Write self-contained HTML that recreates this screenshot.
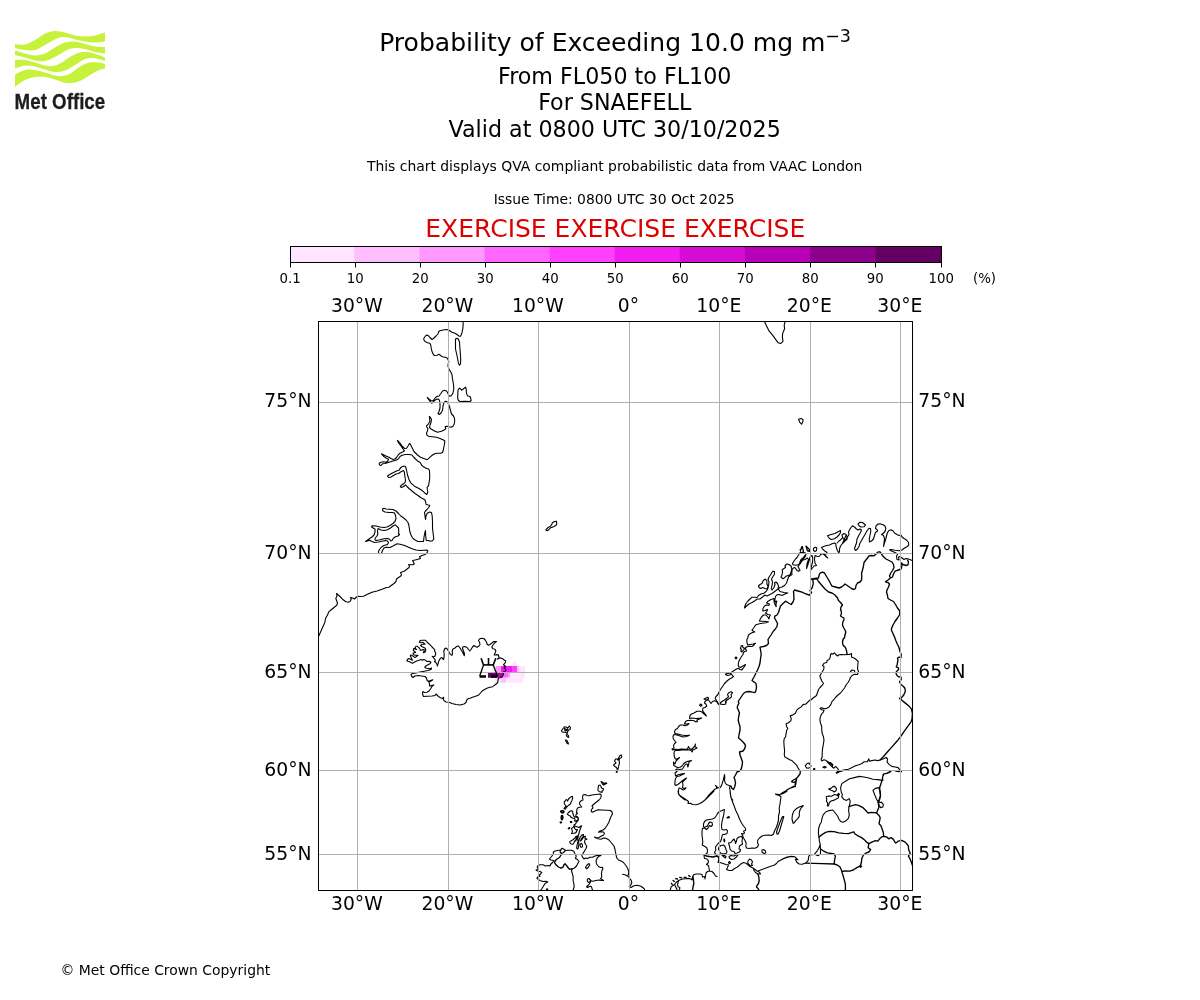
<!DOCTYPE html>
<html lang="en"><head><meta charset="utf-8"><title>Probability of Exceeding 10.0 mg m-3</title>
<style>
html,body{margin:0;padding:0;background:#fff;}
body{width:1200px;height:1000px;overflow:hidden;position:relative;font-family:"DejaVu Sans","Liberation Sans",sans-serif;}
svg{position:absolute;left:0;top:0;}
text{font-family:"DejaVu Sans","Liberation Sans",sans-serif;fill:#000;}
.t1{font-size:25.06px;}
.t2{font-size:22.2px;}
.t3{font-size:13.9px;}
.ex{font-size:25px;fill:#dc0000;}
.cb{font-size:13.3px;}
.ml{font-size:18.75px;}
.coast{fill:none;stroke:#000;stroke-width:1.1;stroke-linejoin:round;stroke-linecap:round;}
.border{fill:none;stroke:#000;stroke-width:1.35;stroke-linejoin:round;stroke-linecap:round;}
.grid{stroke:#b0b0b0;stroke-width:1;fill:none;}
</style></head><body>
<svg width="1200" height="1000" viewBox="0 0 1200 1000">

<text class="t1" x="379.2" y="50.8">Probability of Exceeding 10.0 mg m<tspan font-size="17.5px" dx="-0.3" dy="-9.2">−3</tspan></text>
<text class="t2" x="614.7" y="83.6" text-anchor="middle">From FL050 to FL100</text>
<text class="t2" x="614.7" y="109.8" text-anchor="middle">For SNAEFELL</text>
<text class="t2" x="614.7" y="136.8" text-anchor="middle">Valid at 0800 UTC 30/10/2025</text>
<text class="t3" x="614.7" y="171" text-anchor="middle">This chart displays QVA compliant probabilistic data from VAAC London</text>
<text class="t3" x="614.2" y="204" text-anchor="middle">Issue Time: 0800 UTC 30 Oct 2025</text>
<text class="ex" x="615.3" y="237.4" text-anchor="middle">EXERCISE EXERCISE EXERCISE</text>
<text class="t3" x="60.5" y="975">© Met Office Crown Copyright</text>
<rect x="290.50" y="246.5" width="64.30" height="16" fill="#ffe5ff"/>
<rect x="354.30" y="246.5" width="65.60" height="16" fill="#ffbfff"/>
<rect x="419.40" y="246.5" width="65.60" height="16" fill="#ff99ff"/>
<rect x="484.50" y="246.5" width="65.60" height="16" fill="#ff66ff"/>
<rect x="549.60" y="246.5" width="65.60" height="16" fill="#ff40ff"/>
<rect x="614.70" y="246.5" width="65.60" height="16" fill="#f01cf0"/>
<rect x="679.80" y="246.5" width="65.60" height="16" fill="#d40cd4"/>
<rect x="744.90" y="246.5" width="65.60" height="16" fill="#b800b8"/>
<rect x="810.00" y="246.5" width="65.60" height="16" fill="#8c008c"/>
<rect x="875.10" y="246.5" width="66.90" height="16" fill="#640064"/>
<rect x="290.5" y="246.5" width="651.0" height="16" fill="none" stroke="#000" stroke-width="1"/>
<line x1="290.50" y1="262.5" x2="290.50" y2="267.5" stroke="#000" stroke-width="1"/>
<text class="cb" x="290.20" y="282.6" text-anchor="middle">0.1</text>
<line x1="355.50" y1="262.5" x2="355.50" y2="267.5" stroke="#000" stroke-width="1"/>
<text class="cb" x="355.20" y="282.6" text-anchor="middle">10</text>
<line x1="420.50" y1="262.5" x2="420.50" y2="267.5" stroke="#000" stroke-width="1"/>
<text class="cb" x="420.20" y="282.6" text-anchor="middle">20</text>
<line x1="485.50" y1="262.5" x2="485.50" y2="267.5" stroke="#000" stroke-width="1"/>
<text class="cb" x="485.20" y="282.6" text-anchor="middle">30</text>
<line x1="550.50" y1="262.5" x2="550.50" y2="267.5" stroke="#000" stroke-width="1"/>
<text class="cb" x="550.20" y="282.6" text-anchor="middle">40</text>
<line x1="615.50" y1="262.5" x2="615.50" y2="267.5" stroke="#000" stroke-width="1"/>
<text class="cb" x="615.20" y="282.6" text-anchor="middle">50</text>
<line x1="680.50" y1="262.5" x2="680.50" y2="267.5" stroke="#000" stroke-width="1"/>
<text class="cb" x="680.20" y="282.6" text-anchor="middle">60</text>
<line x1="745.50" y1="262.5" x2="745.50" y2="267.5" stroke="#000" stroke-width="1"/>
<text class="cb" x="745.20" y="282.6" text-anchor="middle">70</text>
<line x1="810.50" y1="262.5" x2="810.50" y2="267.5" stroke="#000" stroke-width="1"/>
<text class="cb" x="810.20" y="282.6" text-anchor="middle">80</text>
<line x1="875.50" y1="262.5" x2="875.50" y2="267.5" stroke="#000" stroke-width="1"/>
<text class="cb" x="875.20" y="282.6" text-anchor="middle">90</text>
<line x1="941.50" y1="262.5" x2="941.50" y2="267.5" stroke="#000" stroke-width="1"/>
<text class="cb" x="941.20" y="282.6" text-anchor="middle">100</text>
<text class="cb" x="984.5" y="282.6" text-anchor="middle">(%)</text>
<clipPath id="mc"><rect x="318.5" y="321.5" width="594.0" height="569.0"/></clipPath>
<g clip-path="url(#mc)">
<rect x="513" y="661.25" width="2.75" height="4.75" fill="#ffe5ff"/>
<rect x="492" y="666" width="2.75" height="6.60" fill="#fff0ff"/>
<rect x="494.75" y="666" width="1.25" height="6.60" fill="#ffe5ff"/>
<rect x="496" y="666" width="5.00" height="6.60" fill="#ff99ff"/>
<rect x="501" y="666" width="11.75" height="6.60" fill="#f01cf0"/>
<rect x="512.75" y="666" width="4.25" height="6.60" fill="#ff40ff"/>
<rect x="517" y="666" width="2.25" height="6.60" fill="#ffbfff"/>
<rect x="519.25" y="666" width="5.75" height="6.60" fill="#ffe5ff"/>
<rect x="488" y="673" width="9.50" height="4.75" fill="#640064"/>
<rect x="497.5" y="672.6" width="6.00" height="5.15" fill="#b800b8"/>
<rect x="503.5" y="672.6" width="4.50" height="5.15" fill="#ff66ff"/>
<rect x="508" y="672.6" width="2.00" height="5.15" fill="#ff99ff"/>
<rect x="510" y="672.6" width="15.00" height="5.15" fill="#ffe5ff"/>
<rect x="495" y="677.75" width="6.00" height="5.00" fill="#ffe5ff"/>
<rect x="501" y="677.75" width="5.00" height="5.00" fill="#ffbfff"/>
<rect x="506" y="677.75" width="17.00" height="5.00" fill="#ffe5ff"/>
<path class="coast" d="M463.0,321.0L463.2,324.0L462.8,329.0L461.8,333.5L460.5,336.2L459.0,336.2L457.0,334.5L455.0,333.2L451.5,332.0L449.0,330.2L446.5,329.5L443.0,330.0L440.0,330.8L438.5,331.8L438.3,333.5L436.0,336.0L433.5,338.5L432.0,339.5L430.0,337.5L428.5,335.8L427.0,335.0L425.5,336.0L424.0,338.0L423.7,339.5L425.0,341.5L427.0,342.5L430.0,343.5L430.7,345.0L431.2,348.0L432.0,351.5L433.5,354.8L434.5,355.5L437.0,355.2L439.0,354.2L440.5,355.5L442.5,356.8L445.0,357.2L446.8,357.8L448.0,359.5L448.8,361.5L448.2,364.0L448.0,366.0L449.0,369.0L450.5,371.5L452.0,374.5L452.5,379.0L453.5,384.0L453.8,389.0L453.0,393.0L451.5,395.5L450.0,396.3L448.8,395.5L447.8,393.0L446.5,391.0L444.5,390.2L442.5,391.0L440.5,394.0L439.0,396.0L437.0,396.5L435.5,397.5L434.0,399.5L432.8,400.8L431.2,400.8L429.5,399.5L427.2,397.5L429.0,400.0L430.5,402.0L432.0,403.2L433.0,402.2L434.5,400.5L436.5,399.2L438.5,399.0L439.5,400.5L440.0,404.0L440.0,408.0L439.0,411.5L438.0,413.5L439.2,414.5L441.0,413.0L442.5,410.5L443.0,406.0L444.0,402.5L445.5,401.2L446.8,401.5L448.0,403.0L449.5,406.5L450.5,410.5L451.5,414.0 M455.5,339.0L457.0,338.2L458.5,339.5L459.5,342.0L459.8,347.0L460.3,353.0L460.7,359.0L460.5,364.0L459.5,365.2L458.5,363.5L457.5,358.0L456.2,352.0L455.5,349.0L455.5,344.0Z M458.0,390.0L459.5,388.2L460.5,388.8L461.5,390.2L463.5,388.8L465.5,387.2L466.2,389.0L466.6,394.0L467.8,396.0L470.0,396.5L470.8,398.5L471.2,400.5L470.0,401.5L465.0,401.3L460.0,401.5L458.5,400.5L457.7,398.5L457.8,394.0Z M451.5,414.0L453.5,416.0L454.5,418.5L454.7,421.5L454.0,424.5L453.0,426.2L451.0,427.2L449.0,426.8L447.0,426.2L445.2,426.5L445.8,428.5L444.5,429.8L441.5,431.2L437.5,432.2L434.5,431.0L431.5,429.3L429.5,427.5L430.0,425.0L431.0,422.5L431.5,419.5L430.5,417.5L429.3,416.5L429.7,419.0L429.8,421.5L428.5,423.8L426.5,425.8L426.8,427.0L427.8,428.5L427.5,431.0L426.5,432.8L426.8,434.8L428.5,436.3L432.0,436.7L436.5,437.2L440.0,438.5L443.5,440.0L444.8,441.0L444.5,444.0L443.8,447.0L443.2,450.5L442.5,452.5L440.5,453.2L437.0,453.3L434.5,453.8L431.5,455.8L429.0,458.2L427.2,459.7L424.5,458.8L420.5,457.2L417.5,455.0L414.0,451.5L412.0,447.5L410.5,444.5L409.5,443.5L408.0,446.0L406.5,448.2L404.5,448.5L402.5,446.5L400.0,443.0L397.5,440.3L398.5,443.0L401.0,446.0L403.0,449.0L404.5,450.8L403.0,451.8L400.0,453.2L398.0,455.2L396.5,457.5L395.0,459.0L393.0,459.5L391.0,458.5L389.0,457.2L386.0,456.0L381.5,453.8L383.5,456.2L386.5,458.2L388.5,459.2L387.8,461.0L386.0,462.2L383.5,461.8L381.0,462.2L379.2,463.2L379.5,465.0L381.0,465.5L382.5,463.8L385.0,463.5L389.0,462.2L393.0,461.0L396.5,460.0L398.5,458.8L400.0,456.5L402.0,455.2L405.5,454.5L409.0,454.5L412.0,455.0L413.5,457.0L415.5,459.0L418.0,461.3L420.2,462.5L421.5,465.0L423.5,466.8L426.0,468.2L428.5,469.0L429.5,470.5L429.7,475.0L429.6,479.0L429.0,483.0L428.5,485.8L427.0,487.5L427.5,490.0L427.7,492.5L426.8,494.5L425.0,493.2L422.5,490.8L419.0,488.5L414.5,486.2L411.0,483.2L409.0,479.5L407.5,475.0L406.5,470.0L405.5,466.5L404.0,466.0L401.5,467.0L400.0,468.5L399.5,470.0L397.0,470.8L394.0,472.2L390.5,474.0L387.5,476.0L388.5,477.5L390.5,477.3L393.5,475.5L396.0,474.0L398.5,473.5L401.0,471.8L403.5,470.5L404.3,472.0L404.8,476.0L405.5,480.0L405.2,482.2L403.5,483.8L401.2,485.2L400.3,486.5L401.5,487.5L403.5,486.5L405.5,484.8L407.0,486.5L409.0,488.5L412.0,491.0L415.0,493.5L418.0,495.5L421.0,497.8L423.5,499.0L425.0,500.0L425.8,502.5L426.0,504.2L428.0,505.0L429.8,505.2L429.0,507.0L427.0,509.5L425.5,511.0 M425.5,511.0L424.5,512.5L425.0,516.0L425.5,519.5L426.0,516.0L427.0,513.5L429.5,512.0L431.5,512.5L432.2,516.0L432.5,522.0L432.5,528.0L433.2,534.0L433.8,539.0L432.5,540.8L430.5,541.2L428.5,540.5L426.2,540.5L425.7,536.0L425.5,530.5L424.8,533.0L424.0,537.0L423.5,541.5L421.0,541.5L418.0,541.5L415.0,540.0L412.5,537.8L411.0,535.0L409.7,531.0L409.0,526.0L408.0,522.5L406.0,520.0L403.5,517.8L400.8,516.0L398.5,513.5L396.0,511.0L393.0,509.5L389.5,509.2L386.0,509.0L384.0,508.2L382.5,509.0L382.8,510.8L385.0,512.0L389.0,512.5L392.5,512.5L394.5,513.0L395.5,515.5L396.0,518.5L395.0,521.5L393.0,523.5L390.0,525.5L387.0,527.0L384.0,527.5L380.0,527.0L376.0,526.0L372.0,525.8L371.5,526.8L373.5,528.2L375.0,529.0L375.0,532.0L374.0,535.0L372.0,537.0L369.0,539.0L365.5,541.5L367.5,541.0L369.5,540.2L372.0,541.5L374.5,542.5L378.5,542.0L382.0,541.2L385.5,540.5L387.5,541.0L388.5,542.5L387.5,544.5L384.0,545.5L381.5,547.0L379.5,549.5L378.5,551.5L378.5,553.2L380.0,553.6L381.5,553.2L382.5,550.5L384.0,548.0L386.0,547.2L390.0,547.5L393.0,546.0L397.0,543.8L400.0,544.2L404.0,545.2L408.0,547.0L412.0,548.8L416.0,550.0L420.0,550.5L424.0,550.2L426.5,550.0L427.8,550.8L427.0,553.0L425.0,554.5L422.0,555.5L419.5,556.8L420.5,558.5L418.0,559.2L415.0,560.0L412.5,560.5L413.5,562.0L414.2,564.0L412.5,564.8L410.0,564.8L408.5,564.5L409.5,566.0L409.0,567.5L406.5,569.5L404.0,571.2L400.5,572.5L401.5,574.5L400.8,576.0L398.5,577.5L396.5,579.0L396.0,581.5L394.0,583.5L391.5,585.2L389.0,587.2L386.0,587.5 M378.0,528.5L381.0,530.0L384.0,530.5L387.5,529.8L390.5,528.0L393.0,526.0L395.5,524.8L397.0,526.5L398.5,528.0L398.8,531.0L398.5,533.5L399.5,534.5L398.0,536.0L395.5,536.8L393.5,538.0L392.0,540.5L390.8,541.0L389.5,539.2L387.5,538.5L384.0,538.8L380.0,539.8L376.5,540.5L375.0,540.0L375.2,538.0L377.0,536.0L377.8,534.0L377.5,531.0Z M386.0,587.8L382.0,589.2L377.0,591.0L372.0,592.2L367.0,594.5L363.5,596.2L360.5,596.5L357.5,596.2L356.0,597.5L354.5,599.0L352.5,598.0L350.5,597.5L351.2,599.5L350.0,601.5L348.0,602.3L345.5,601.5L342.5,599.2L339.5,596.0L336.5,593.5L337.0,596.0L335.8,598.5L336.8,601.0L337.5,603.5L336.5,605.5L334.0,607.5L331.5,609.5L328.8,611.8L327.5,615.0L325.5,618.5L325.0,622.0L323.0,626.5L321.0,631.0L319.0,635.5L318.0,637.5 M419.3,642.2L420.2,640.5L422.0,640.2L425.3,640.2L426.7,641.7L428.0,643.0L430.0,644.7L432.0,647.0L433.7,648.7L434.8,649.7L434.5,651.0L435.7,652.7L435.5,654.7L434.8,656.2L433.3,656.7L432.2,656.4L433.7,657.8L434.8,659.3L435.3,660.7L434.5,661.5L436.0,662.7L437.0,664.3L437.3,666.0L438.0,664.0L438.7,661.3L439.7,659.3L440.7,658.0L442.0,657.5L442.5,658.5L443.5,659.5L444.0,657.5L444.2,654.5L443.8,651.5L444.5,649.0L445.8,648.0L447.2,649.0L448.5,651.0L449.5,653.0L450.5,654.5L452.0,655.3L452.5,653.5L452.2,651.0L453.0,649.0L455.0,648.0L457.0,646.2L458.5,646.0L460.0,648.0L461.5,650.5L463.0,653.0L464.3,655.8L464.5,654.0L463.5,651.0L462.5,648.5L463.0,646.8L465.0,646.5L467.0,647.5L468.5,649.5L469.8,651.0L471.0,649.5L472.5,647.0L474.0,645.5L475.5,646.5L477.0,647.2L479.0,646.0L480.0,644.5L479.5,642.2L478.5,640.5L479.5,639.0L481.5,638.2L483.8,638.5L485.2,640.0L486.5,642.0L487.0,644.0L488.5,645.3L490.0,644.5L492.0,642.8L494.0,641.5L496.5,641.5L494.5,643.0L493.0,645.0L491.8,647.2L493.0,648.8L495.0,649.2L495.8,651.0L495.5,652.2L494.7,653.7L494.2,655.0L495.5,655.0L497.2,654.6L498.5,655.0L498.7,656.5L499.0,657.7L498.0,659.0L497.2,659.2L498.7,658.2L501.0,658.0L503.0,659.0L504.5,660.2L505.7,660.7L505.5,662.2L504.5,663.7L503.5,664.7L504.5,665.5L505.5,666.5L504.5,667.5L504.2,668.5L505.7,669.2L505.7,670.7L505.0,671.5L503.5,672.0L503.5,673.2L503.0,675.5L501.7,677.0L500.0,677.7L498.7,678.0L498.0,679.5L498.0,681.5L497.2,683.2L495.5,684.5L494.0,685.6L492.7,686.7L490.0,687.2L487.5,688.0L485.0,689.2L482.5,690.7L480.5,693.0L478.5,695.2L475.5,696.2L472.5,697.2L470.0,698.2L468.0,698.8L466.8,700.0L466.0,702.5L464.0,704.0L460.0,705.0L456.0,704.5L452.0,703.5L449.0,702.2L446.0,702.0L444.0,700.5L443.2,699.0L443.8,697.2L442.5,698.5L440.5,697.8L438.5,696.5L437.0,695.0L436.0,694.0L435.0,695.5L432.0,696.0L427.0,696.3L423.5,696.5L422.5,694.0L422.8,691.5L424.5,692.5L427.0,692.2L429.0,691.0L430.8,688.5L432.0,686.2L433.8,685.0L431.5,685.5L429.5,686.0L429.5,684.0L429.0,682.0L431.0,681.0L432.8,679.8L430.5,680.5L428.5,681.5L427.0,680.0L426.5,678.0L425.0,676.5L421.5,676.0L418.0,675.5L415.0,676.0L413.0,677.5L411.5,676.0L411.0,674.2L412.5,673.5L416.0,673.0L420.0,672.0L424.0,671.2L428.0,670.5L431.0,669.5L431.5,668.0L429.5,668.8L426.5,668.2L424.8,667.5L425.0,667.0L426.3,665.7L428.0,664.7L430.0,663.7L431.0,662.5L429.7,661.3L427.0,661.5L425.7,660.3L423.7,659.5L422.3,660.2L421.0,659.5L419.7,660.0L417.3,660.8L414.7,662.0L412.5,663.3L411.3,662.7L409.7,661.7L407.8,661.3L406.8,660.7L407.5,659.5L408.7,658.5L410.0,659.0L411.3,659.8L412.7,660.3L411.5,658.8L411.3,657.3L410.3,656.2L410.5,655.0L412.0,655.3L413.7,656.7L415.0,657.5L416.3,656.7L418.0,655.3L415.3,655.3L413.7,654.7L413.0,653.3L414.3,652.7L415.7,652.5L414.5,651.5L413.3,650.3L413.5,648.7L414.5,648.3L415.3,649.3L416.7,649.5L415.5,648.7L415.3,647.3L416.0,646.2L417.3,646.3L419.0,647.7L420.0,649.0L420.2,650.3L421.7,650.3L422.7,649.5L424.3,649.7L424.0,651.3L423.3,652.7L424.3,652.5L425.3,651.7L425.7,650.0L425.3,648.3L423.3,647.3L421.7,646.5L420.7,645.5L421.7,644.5L423.3,644.3L425.0,644.3L424.0,643.2L422.7,642.3L420.7,642.7Z M546.3,530.5L546.0,529.5L547.7,527.8L550.4,526.1L551.8,524.4L552.4,522.7L554.5,521.5L556.5,521.3L556.7,523.7L555.9,525.4L553.8,526.6L551.8,527.4L550.4,527.8L548.4,530.1L547.0,530.8Z M764.2,321.0L766.8,326.4L769.2,331.2L772.8,335.4L775.8,339.6L778.2,342.8L780.6,343.6L783.0,341.4L782.4,337.2L782.6,333.6L784.6,328.8L784.2,325.2L785.2,321.0 M798.6,419.2L801.0,418.5L803.0,419.4L802.8,421.8L801.6,424.2L799.8,422.4Z M561.5,730.8L563.0,728.5L564.5,726.8L566.5,727.2L568.0,728.0L569.2,726.0L570.5,727.5L570.0,729.5L568.5,730.0L567.8,731.5L567.0,733.5L565.5,732.0L563.5,732.2L562.0,731.8Z M564.5,728.5L566.0,729.5L567.5,729.0L566.8,730.8L565.0,730.5Z M566.2,735.0L567.5,734.5L568.8,736.0L568.5,737.5L567.0,736.5Z M565.5,740.0L566.8,740.2L568.0,742.5L568.5,744.0L567.2,743.5L566.0,741.5Z M621.0,754.8L621.8,756.0L621.2,757.8L619.5,758.5L619.0,760.5L619.5,762.5L618.8,765.5L618.2,768.5L617.5,770.0L616.5,767.5L614.5,766.2L613.5,765.0L615.0,763.8L616.0,762.8L614.5,761.2L615.5,759.0L617.0,759.0L618.0,760.0L618.5,758.0L619.5,756.2Z M616.3,771.5L617.2,771.3L617.0,772.5L616.3,772.2Z M601.0,781.5L602.5,782.2L604.0,783.5L606.0,782.8L606.8,783.2L605.0,784.2L603.5,785.0L602.5,784.0L601.5,782.5Z M598.5,785.5L600.0,785.0L601.0,786.5L601.5,788.0L603.5,788.8L603.0,790.5L601.8,791.5L602.0,792.5L600.5,792.0L599.0,791.5L597.8,790.0L598.2,788.0Z M592.5,890.0L592.0,888.5L591.5,886.8L590.0,886.2L587.5,887.5L586.5,886.8L588.5,885.0L590.0,883.0L591.0,880.8L593.0,881.2L596.0,880.5L599.0,880.0L601.5,880.5L603.5,880.5L602.0,879.5L600.5,878.5L601.8,877.0L601.5,874.0L601.8,871.0L602.8,869.0L602.5,867.2L600.5,867.5L598.5,866.5L596.5,864.0L596.0,861.0L597.2,858.0L599.0,856.2L601.0,855.5L598.0,855.2L595.0,856.0L592.5,857.2L590.0,857.2L587.5,858.5L585.5,858.0L584.0,859.0L582.5,857.2L581.8,855.0L583.0,853.5L584.5,851.0L586.0,848.5L586.8,846.0L585.5,844.5L584.5,842.0L585.0,839.8L587.0,839.2L584.8,838.0L585.5,836.2L584.0,836.5L582.0,839.5L580.5,841.0L581.5,838.5L583.0,836.5L583.5,834.5L582.0,834.8L580.5,836.5L579.2,839.5L578.5,842.5L577.8,840.0L578.0,837.0L578.8,834.0L579.5,831.0L580.5,828.5L581.5,825.8L580.5,826.2L579.0,827.5L577.0,826.8L575.2,826.2L574.0,825.0L575.5,824.0L576.5,822.0L578.0,820.5L578.5,818.5L577.5,816.8L575.8,816.2L576.0,814.5L577.5,813.5L576.5,812.5L576.8,810.0L577.5,808.0L579.5,807.2L581.8,807.0L580.5,805.5L579.5,804.0L579.8,802.0L581.0,800.8L583.0,800.0L582.5,797.5L583.0,795.0L585.0,794.5L587.0,795.5L589.0,795.8L592.0,795.0L596.0,794.5L600.0,794.0L601.2,795.0L600.8,798.0L599.0,800.0L596.5,802.0L594.0,804.0L592.0,806.0L593.0,807.8L591.5,809.5L591.2,811.5L592.5,812.2L595.0,811.0L598.0,809.8L602.0,810.0L607.0,810.2L610.5,810.5L612.0,812.0L612.5,814.0L611.0,816.5L610.0,819.0L609.0,822.0L607.0,825.5L605.0,828.5L603.0,830.0L600.0,831.0L598.5,832.2L601.0,831.8L603.5,832.0L604.5,833.5L603.5,835.0L601.5,836.0L599.0,837.5L596.0,837.8L594.5,837.0L596.0,838.0L599.0,839.0L601.0,839.2L603.5,838.0L606.0,838.2L609.0,840.0L611.5,843.0L614.0,846.0L615.0,849.5L615.8,854.0L616.8,858.0L618.5,860.0L621.0,861.0L623.5,862.5L625.5,865.0L627.5,868.0L628.8,871.5L628.5,874.0L627.8,876.2L625.0,874.8L622.5,874.3L625.0,874.8L627.8,876.2L629.0,877.5L631.0,880.0L631.8,882.5L630.8,885.0L629.2,886.5L631.0,887.5L634.0,885.8L637.0,885.2L641.0,886.2L644.0,888.5L645.0,890.5 M587.5,879.0L589.0,878.5L590.5,880.0L590.0,881.8L588.5,882.5L587.3,881.2Z M564.3,801.4L565.5,800.8L566.1,799.6L567.0,799.9L567.6,801.1L568.5,799.0L569.7,797.8L570.9,796.9L572.4,796.3L572.7,797.8L572.1,800.2L570.9,802.3L570.6,803.8L569.4,804.7L567.9,805.9L566.4,807.4L565.2,809.2L564.0,808.6L564.9,807.4L566.1,806.2L565.2,805.0L564.3,803.5Z M560.4,811.3L561.9,810.4L563.7,810.7L564.3,811.9L563.1,813.1L561.3,812.8Z M561.0,811.6L562.5,811.9L563.7,811.6 M561.3,815.5L562.5,815.2L563.1,816.7L562.8,818.8L562.2,820.0L561.3,819.4L561.0,817.6Z M561.9,815.8L562.1,817.6L561.9,819.4 M560.1,822.1L561.3,821.8L561.6,822.7L560.4,823.0Z M560.3,822.5L561.5,822.3 M567.3,814.0L568.5,812.5L570.3,811.0L571.8,810.7L572.7,811.9L573.0,814.0L573.6,815.8L574.8,817.0L576.6,817.3L578.1,817.9L578.4,819.4L577.2,820.3L575.7,821.2L574.5,820.9L575.1,819.4L574.2,818.2L572.7,818.2L571.2,817.3L570.0,815.8L568.5,815.2Z M570.3,821.5L571.5,821.2L571.8,822.4L570.6,822.7Z M570.5,822.0L571.7,821.8 M568.2,828.4L569.4,827.5L569.9,827.9L568.7,829.0Z M568.4,828.6L569.6,827.7 M571.5,828.4L573.0,827.5L573.6,826.3L574.5,827.2L574.8,828.7L576.0,829.9L577.5,829.6L576.6,831.4L575.7,832.9L573.6,833.3L571.5,833.5L572.4,832.0L572.1,830.2Z M569.7,841.6L571.2,840.7L573.0,839.8L574.8,838.0L576.0,836.8L576.9,837.4L576.0,839.2L574.8,841.0L573.9,842.8L572.7,844.3L571.2,844.0L570.0,842.8Z M575.7,836.5L577.2,835.9L578.1,836.5L577.2,838.0L576.3,839.8L575.7,841.0 M580.2,844.0L581.4,843.4L582.3,844.3L582.6,846.1L582.0,847.3L580.8,847.3L580.1,845.8Z M578.1,841.3L577.5,843.4L576.9,845.8L576.7,847.9L577.3,849.1L578.1,848.5L578.5,846.4L578.9,844.0L578.7,842.8Z M585.5,867.5L587.0,865.0L589.0,863.5L589.8,864.8L588.5,867.0L586.8,868.8Z M540.5,890.5L542.0,888.5L543.5,886.0L545.0,883.5L547.8,882.0L546.0,881.2L543.0,881.5L540.0,880.5L538.5,879.5L537.0,878.5L537.5,877.0L540.0,876.2L539.0,875.0L540.5,874.0L541.8,872.5L540.0,871.5L537.5,871.0L536.0,870.0L538.5,869.0L537.2,867.5L537.8,865.8L540.0,864.8L543.0,864.8L545.5,866.0L548.0,865.5L550.0,866.0L550.5,864.5L552.5,862.5L554.0,860.5L551.0,860.0L549.5,859.0L551.5,856.5L553.5,854.0L553.2,852.2L555.0,851.0L558.5,850.2L560.5,850.0L562.2,848.2L564.0,849.2L565.5,850.5L568.5,850.3L571.5,850.2L573.8,851.2L574.8,853.5L576.2,856.0L575.5,858.5L577.5,859.5L579.0,861.5L577.8,863.5L576.5,866.0L574.5,868.0L572.0,869.0L571.5,871.0L572.5,874.0L573.2,877.0L573.0,880.0L573.8,883.5L574.2,886.5L573.0,890.5 M561.0,849.8L560.0,852.0L561.5,853.5L563.5,852.5L565.0,851.0 M546.5,889.0L547.5,888.8L547.7,889.8L546.7,889.9Z M821.5,547.5L823.5,546.5L826.5,545.5L829.5,545.0L832.0,543.8L834.5,543.0L835.8,544.0L836.2,547.0L837.2,550.0L838.5,552.5L839.5,552.0L839.5,549.0L840.5,546.0L842.5,543.5L845.0,541.0L846.8,539.5L847.5,537.0L849.0,534.5L848.5,532.0L849.5,530.0L851.0,527.5L852.5,525.8L854.5,527.0L856.5,529.0L858.0,530.0L860.0,529.0L861.5,530.0L860.5,532.5L858.5,536.0L857.0,539.0L856.5,543.0L855.2,546.5L854.5,549.0L855.5,550.5L857.5,549.0L859.0,546.5L859.8,543.5L861.5,540.5L863.5,537.0L865.5,533.5L867.2,530.5L869.0,528.3L870.5,528.5L870.8,531.5L870.0,535.0L869.2,539.0L869.5,542.0L871.5,541.0L873.5,539.0L874.5,535.5L875.5,532.5L877.5,531.0L877.0,529.5L875.5,528.5L876.0,526.0L878.0,524.0L880.0,523.8L883.0,524.8L885.0,526.0L885.8,528.5L885.0,531.5L883.0,533.5L881.5,534.5L883.5,535.5L884.5,538.5L884.0,543.0L883.5,546.5L884.5,543.0L885.5,540.0L886.5,536.0L887.5,532.5L889.0,530.5L891.0,529.8L893.0,530.8L894.5,533.0L897.0,534.5L899.0,535.5L901.0,535.0L902.0,537.0L904.0,538.5L906.5,540.0L908.5,542.5L908.8,545.0L907.0,546.8L904.5,548.0L902.0,550.0L899.0,550.8L895.0,550.2L891.5,549.5L889.5,549.8L892.0,551.2L895.0,552.5L897.5,554.0L896.5,556.5L897.0,559.5L899.0,560.0L898.5,557.0L900.0,556.5L902.0,558.0L904.0,559.5L906.0,558.5L908.5,559.0L911.0,560.0L913.0,560.8 M827.5,535.8L831.0,534.5L835.0,533.5L838.5,531.5L840.5,530.5L840.5,532.5L839.0,535.0L837.0,537.0L834.5,538.8L831.0,539.5L829.0,538.0Z M858.0,524.0L860.0,522.2L862.5,522.5L865.5,525.0L864.0,526.8L861.0,527.0L859.0,525.8Z M842.0,535.0L844.0,533.5L846.0,534.5L847.0,536.5L846.5,539.0L845.0,540.0L843.5,539.0L842.5,537.0Z M842.5,543.5L843.5,541.0L844.5,539.0L845.5,536.5L846.2,534.8 M837.2,543.0L839.0,541.0L841.0,539.5L842.5,537.5 M821.5,547.5L823.0,549.5L825.0,551.2L827.0,552.2L826.0,554.0L824.0,554.2L825.8,555.8L827.8,558.0L826.5,557.0L824.5,555.0L823.0,553.8L820.5,554.5L819.5,556.2L817.5,556.5L815.0,555.5L814.5,559.0L815.0,563.0L816.5,565.5L814.0,566.0L812.0,568.5L810.8,570.0L811.5,566.0L812.5,562.0L812.8,558.0L812.0,555.5L810.0,557.0L809.0,561.0L807.8,565.0L806.5,568.5L807.0,564.0L808.5,559.5L807.5,558.0L805.0,559.5L803.0,560.0L801.2,562.0L799.5,564.5L798.0,566.5L799.0,568.5L800.0,570.5L798.5,571.2L796.5,570.0L795.5,568.0L794.0,567.5L792.2,569.5L791.8,572.5L792.0,574.5L790.0,575.8L788.5,577.0L787.5,580.0L786.5,583.0L784.5,585.5L782.0,587.0L779.5,587.5L778.5,589.0L780.0,591.5L784.0,592.5L787.8,593.0L785.0,594.0L782.0,595.5L779.5,594.5L777.0,594.8L775.5,596.5L774.8,600.0L775.5,602.0L776.8,601.0L776.0,604.0L776.2,606.8L775.0,604.5L774.0,601.5L774.0,598.5L771.0,599.5L768.0,601.2L766.5,603.0L769.5,604.0L769.0,605.2L766.5,605.0L764.5,606.0L763.0,608.5L762.8,611.0L765.0,610.5L767.5,609.5L766.8,611.5L765.5,613.0L768.0,614.5L770.5,615.0L769.5,616.5L769.0,619.0L767.8,617.0L766.0,615.0L763.5,615.0L761.5,617.0L760.0,619.5L759.5,621.2L763.0,621.2L768.5,621.8L766.0,622.8L762.0,623.2L758.5,624.0L755.5,625.0L754.0,627.5L752.0,630.0 M800.5,551.5L801.5,547.0L802.5,546.5L803.0,550.0L803.5,551.8 M806.0,546.0L808.0,548.0L810.0,550.0L809.5,551.5L807.5,551.0L806.8,548.5Z M813.5,548.5L815.0,547.2L816.8,547.8L816.5,550.5L815.0,551.5L813.5,550.5Z M800.0,552.5L803.0,552.2L805.5,553.0L806.0,554.5L804.5,556.0L803.0,558.0L801.0,559.5L800.0,562.0L799.0,564.5L796.0,565.2L793.0,564.8L792.5,563.5L794.0,561.0L795.5,559.0L797.0,557.5L798.5,555.0Z M806.0,554.5L805.0,557.0L803.0,559.0L801.5,561.0L800.5,563.5 M787.0,564.0L789.0,564.5L791.0,566.0L791.8,568.5L791.2,572.0L790.0,574.8L788.0,575.5L786.0,576.2L784.5,577.8L783.0,578.8L781.0,577.0L782.0,575.0L782.5,572.0L782.2,569.8L784.0,568.5L785.5,567.5L785.0,565.5Z M765.5,579.0L766.8,581.0L767.0,584.0L768.0,586.5L767.0,589.0L765.0,588.5L762.5,587.5L760.5,588.5L759.0,587.5L758.5,586.0L760.0,584.5L762.0,583.5L763.0,581.0L764.5,579.5Z M773.0,571.2L774.5,571.5L774.5,574.0L773.0,576.5L771.5,579.0L772.5,582.0L772.0,585.5L771.2,589.0L772.0,590.0L774.0,587.5L775.0,584.5L774.5,582.5L776.0,582.0L777.5,583.5L778.5,586.0L778.0,589.0L776.0,590.5L774.0,592.0L772.0,593.5L769.0,595.0L767.0,596.0L765.0,595.0L762.5,597.0L760.0,599.0L757.5,599.0L756.5,599.5L754.5,601.0L752.0,602.5L749.0,604.0L746.5,606.0L744.5,608.0L744.8,606.5L746.0,603.5L748.0,601.0L750.0,599.0L752.0,597.2L754.5,597.2L757.0,597.5L758.5,595.5L761.0,594.0L764.0,593.2L766.0,591.5L767.5,589.5L768.5,586.0L769.0,582.0L768.0,579.5L769.0,577.0L770.5,575.0L771.8,572.5Z M806.0,546.0L808.0,548.0L809.5,549.5L809.0,551.2L807.0,550.0Z M800.0,550.0L802.0,548.0L803.5,550.0L803.0,552.0 M752.0,630.0L753.0,631.0L754.8,632.0L752.5,632.5L750.5,633.5L748.5,635.0L747.8,637.5L746.8,640.0L747.0,643.0L747.8,645.0L750.0,644.5L753.0,644.0L755.5,643.2L754.0,645.0L752.0,646.5L749.0,646.2L746.5,647.0L744.8,648.5L746.0,649.5L746.5,651.0L744.5,651.5L743.5,652.5L743.0,654.5L741.5,656.5L740.0,659.0L738.8,661.5L738.2,664.5L738.5,666.5L740.5,667.5L743.0,666.0L745.5,664.5L744.5,666.5L743.0,668.5L741.5,670.0L739.8,669.5L738.5,668.2L736.5,669.0L734.0,670.5L732.0,672.0L730.0,673.0L728.5,673.5L726.5,673.5L725.5,674.5L727.5,675.5L730.0,675.0L731.0,673.5L732.0,674.8L733.5,676.5L731.5,678.0L729.5,679.0L727.0,681.0L724.5,683.5L722.5,686.5L720.5,689.5L719.0,692.0L718.0,694.5L716.0,696.5L715.2,698.5L716.2,700.0L717.5,702.0L718.5,704.5L716.5,701.5L714.5,700.8L712.5,701.5L711.0,703.5L710.0,702.0L708.5,700.0L706.0,699.8L704.0,699.0L706.0,698.0L708.0,697.2L708.5,698.5L707.0,700.0L705.0,701.5L704.5,703.0L706.0,704.2L706.8,706.0L705.0,707.5L703.0,708.0L702.5,710.5L704.0,712.5L706.5,716.0L704.0,714.0L702.0,712.0L700.0,711.2L697.0,711.2L694.0,713.0L691.5,714.0L690.0,715.5 M740.5,648.5L741.2,645.8L742.5,645.5L743.0,647.5L744.5,648.5L743.5,650.0L742.0,652.0L740.8,651.0L741.5,649.5Z M735.0,657.8L736.0,656.8L737.0,657.8L736.0,658.8Z M699.6,705.2L700.8,704.0L702.0,705.2L700.8,706.4Z M727.5,694.5L729.0,692.5L731.2,691.8L732.5,692.8L731.0,694.5L731.5,696.8L729.5,698.5L727.0,700.0L725.5,701.5L725.8,704.0L724.0,704.5L721.0,704.2L719.5,703.2L722.0,701.5L724.5,700.0L726.5,698.5L728.5,696.8Z M718.5,704.5L719.5,703.0L721.0,704.0L723.0,704.5L725.5,704.2L726.2,702.0L726.5,700.0 M847.0,654.5L844.5,654.8L841.5,654.5L839.0,654.8L837.5,656.0L835.8,654.5L834.5,652.8L833.0,654.2L831.5,653.5L830.5,654.5L830.2,657.5L829.0,659.5L827.0,660.5L826.8,662.5L824.0,663.2L822.5,665.5L824.0,666.5L823.8,669.0L822.5,671.5L821.0,673.8L819.8,676.0L820.8,678.5L821.8,681.0L823.5,683.5L822.0,685.5L820.0,687.5L818.5,689.5L817.5,692.5L816.5,695.5L814.5,697.0L812.5,698.5L811.0,700.0 M847.0,654.5L849.5,654.5L851.5,653.5L851.5,657.0L854.0,658.0L856.5,659.8L858.2,661.5L857.8,665.0L857.5,669.0L858.5,671.0L857.5,674.5L854.5,674.2L852.0,675.5L850.5,677.5L849.5,680.0L848.0,682.5L846.0,685.0L844.5,688.0L842.5,690.5L840.5,693.0L838.0,695.0L835.5,697.5L833.5,700.0 M850.5,671.5L852.0,670.0L854.5,670.5L854.8,672.2L853.0,672.5L851.0,672.2Z M731.0,786.2L729.5,787.0L730.0,790.0L730.5,794.0L731.0,798.0L732.8,800.0 M731.0,786.2L729.0,785.5L726.5,784.5L725.0,782.5L724.5,780.0L724.8,777.0L724.5,774.5L723.8,778.0L723.0,781.0L722.0,784.0L721.0,786.5L719.5,788.0L717.5,787.5L715.5,785.5L716.5,787.0L717.0,788.5L715.0,789.0L713.5,790.5L711.0,793.0L708.5,795.5L706.5,798.0L705.0,800.0 M718.5,704.5L719.5,703.0L721.0,704.0L723.0,704.5L725.5,704.2L726.2,702.0L726.5,700.0 M690.0,715.5L689.5,718.5L692.0,718.0L696.0,718.5L699.0,718.2L701.8,718.0L699.0,719.2L696.8,720.0L697.5,721.5L696.0,722.0L694.0,720.8L691.0,720.2L687.5,720.5L685.5,721.5L684.5,724.0L686.5,724.0L689.0,723.5L687.5,725.0L685.0,725.8L683.0,725.0L680.5,725.0L678.5,726.5L677.5,728.5L675.5,729.5L674.5,731.5L675.0,733.5L678.0,734.0L681.5,735.0L685.5,735.5L689.5,735.2L686.5,736.5L683.0,737.0L680.0,736.0L677.0,735.0L674.0,734.5L673.0,736.0L673.2,738.5L674.5,740.5L676.0,742.5L674.5,743.5L673.5,745.5L674.0,748.0L672.0,749.0L672.5,750.0L675.0,749.2L678.0,749.5L681.5,749.0L685.0,749.2L687.5,749.0L688.5,746.5L689.5,748.5L691.5,749.5L693.0,748.0L694.5,746.5L695.5,744.0L695.0,746.5L697.0,748.0L695.0,749.0L692.8,750.0L692.2,752.0L691.0,750.5L688.5,749.8L685.0,750.0L682.0,750.0L678.0,750.5L675.0,750.5L674.0,752.5L674.2,756.0L675.0,758.5L676.5,759.5L679.5,757.5L677.5,759.5L676.0,761.0L675.0,764.0L673.5,762.0L673.8,765.5L675.5,766.5L677.5,767.5L680.0,767.2L682.0,766.0L683.5,764.0L685.0,762.5L688.0,761.2L691.5,760.5L689.0,762.0L688.5,765.0L687.8,767.0L687.2,764.0L686.0,764.0L684.0,766.5L682.5,769.0L680.0,769.5L677.0,769.0L675.5,770.0L677.0,771.5L675.0,773.0L675.5,776.0L677.5,775.0L680.0,774.2L682.5,773.8L684.5,773.5L682.0,774.8L679.5,776.0L677.0,776.5L675.5,778.5L675.0,781.5L674.8,784.5L676.0,785.5L678.5,784.0L681.0,782.0L684.0,779.5L686.5,778.0L684.5,780.0L682.5,782.0L683.0,785.0L682.5,787.5L684.0,788.5L686.0,787.8L684.5,789.5L683.0,790.0L681.0,788.5L679.0,788.0L678.5,790.5L678.5,793.5L680.0,796.0L682.5,798.0L685.0,800.0 M810.0,700.0L808.8,701.1L805.9,704.0L803.0,704.6L801.2,706.9L798.3,708.7L796.6,710.4L795.4,713.3L792.5,715.1L790.2,715.7L791.3,718.6L790.8,720.9L788.4,722.7L786.1,723.8L786.7,726.8L787.8,728.5L786.7,730.2L786.1,733.8L785.5,737.2L784.3,738.4L783.8,741.3L784.1,746.0L784.6,750.7L784.3,754.8L784.9,757.1L787.2,758.2L789.6,759.8L791.9,760.6L794.2,762.9L796.6,765.2L797.8,767.6L798.9,769.3L800.1,771.1L800.1,773.4L798.9,775.2L797.2,777.5L795.4,779.2L793.7,779.8L791.9,781.0L793.1,782.4L795.4,781.6L796.6,779.2L796.0,782.8L795.4,786.2L792.5,787.4L789.0,788.6L786.7,790.0 M833.5,700.0L832.2,701.1L830.8,704.6L828.7,707.3L825.8,708.7L823.4,708.4L821.1,707.7L819.9,708.4L821.7,709.8L824.0,710.4L823.4,712.2L821.7,713.9L820.5,716.2L819.9,719.8L820.5,723.2L821.7,726.2L821.7,729.7L822.2,733.2L823.4,736.7L824.0,740.2L823.4,744.2L822.6,748.3L822.2,753.0L822.2,757.1L821.1,759.4L821.7,760.9L824.0,759.8L826.3,760.6L828.7,762.3L831.0,762.9L832.8,764.7L832.2,767.0L833.9,768.2L835.7,766.4L837.4,768.2L838.6,769.9L839.2,771.7L837.4,773.1L836.2,772.6L838.0,771.1L841.5,770.5L845.0,769.9L848.5,769.3L852.0,767.6L855.5,765.8L859.0,764.7L861.9,763.5L864.2,761.8L867.2,761.8L868.9,758.8L869.3,761.2L871.8,760.6L874.8,760.0L877.7,760.6L880.0,760.0L883.5,758.8L886.4,757.4L887.6,759.4L887.0,761.8L888.8,764.1L891.7,766.4L895.2,767.0L898.1,767.6L899.8,769.9L901.6,771.7L898.7,771.1L895.2,770.5L891.7,770.5L889.9,772.2L887.0,773.4L884.1,774.0L882.9,776.3L882.6,779.2L882.9,780.4 M805.3,765.8L807.1,763.5L808.8,762.9L810.0,764.7L811.2,765.8L810.0,767.6L808.2,768.2L806.5,767.9Z M813.5,768.8L814.7,768.5L814.8,769.5L813.6,769.7Z M822.8,767.2L824.6,766.4L826.3,767.0L824.6,767.9Z M826.3,760.6L828.1,762.9L829.8,764.7L831.6,766.4 M828.7,762.3L830.4,763.5L832.2,765.2 M678.0,791.0L678.5,794.0L680.5,796.0L683.5,798.0L686.5,800.0L688.5,801.5L688.0,803.5L690.5,803.2L692.5,804.5L696.0,804.8L699.5,803.8L702.5,802.0L705.5,799.5L708.5,796.5L711.5,793.5L714.0,791.0 M730.0,791.0L730.5,795.0L731.5,799.0L733.0,803.0L734.5,807.0L736.0,811.0L738.0,815.0L739.5,819.0L741.5,823.0L743.5,826.0L745.5,828.5L745.5,830.5L743.5,831.0L744.5,833.0L743.0,834.0L741.5,833.5L742.5,835.5L743.5,838.0L745.0,840.5L746.2,843.0L745.8,846.0L746.5,848.0L749.0,848.5L752.0,848.0L755.0,848.2L757.5,847.0L758.5,845.0L757.5,842.5L757.8,840.0L759.5,838.0L762.0,836.0L765.0,835.2L768.5,835.0L771.5,835.5L773.5,834.0L774.5,831.0L776.0,828.0L777.5,824.0L778.5,820.0L778.5,816.0L779.5,812.0L779.2,808.0L780.0,804.0L780.5,800.0L781.0,797.0L779.5,795.5L776.5,794.8L775.5,794.0L779.0,794.5L782.0,794.0L785.0,792.5L787.0,791.0 M783.0,816.5L783.8,816.5L782.5,821.0L781.0,826.0L779.5,831.0L778.0,834.2L777.0,834.0L776.5,832.0L777.5,829.0L779.0,825.0L780.5,821.0L782.0,817.5Z M762.0,850.0L763.5,849.5L765.5,851.0L765.8,853.0L764.0,853.5L762.0,852.2Z M717.0,855.0L715.5,854.0L714.5,852.5L715.8,850.0L715.5,847.0L717.0,845.0L718.5,843.0L720.5,841.5L721.5,839.0L722.0,836.0L723.0,834.2L724.5,834.5L727.0,833.5L727.5,831.0L726.5,829.5L724.0,830.0L722.0,829.5L721.5,826.5L721.8,823.0L722.5,819.5L723.5,816.0L724.0,812.5L724.5,809.5L722.0,810.5L719.5,811.5L717.8,813.0L716.5,815.5L714.5,818.0L712.5,819.0L709.5,819.5L706.5,820.0L704.5,821.5L703.5,824.0L703.5,826.5L704.5,828.0L702.5,828.2L702.0,831.0L702.0,835.0L702.5,839.0L702.8,842.5L702.2,845.0L704.0,846.0L706.5,847.5L707.5,850.0L707.2,853.0L705.5,854.5L704.0,856.0L704.5,858.5L707.0,859.0L708.5,861.0L708.0,863.0L706.5,864.5L708.5,865.5L709.0,868.0L709.5,871.0L707.5,871.5L706.0,873.0L705.5,876.0L705.0,879.0L704.5,876.5L702.5,877.0L702.0,874.5L700.0,874.0L696.5,874.0L694.0,874.5L692.8,876.5L692.2,878.2L692.4,879.8 M704.5,828.0L706.5,829.5L708.0,828.0L709.5,825.5L711.0,826.5L712.5,825.0L712.0,822.5L710.0,822.0L708.5,823.5L707.5,826.0L705.0,827.0 M727.0,817.5L729.0,816.5L729.5,817.2L727.8,818.2Z M724.0,838.8L724.8,840.0L724.5,842.0L723.8,840.5Z M719.0,847.0L721.0,845.5L723.5,845.0L725.0,846.5L726.0,849.5L727.0,852.0L726.0,853.5L723.5,853.8L721.0,853.5L719.5,851.5L718.5,849.0Z M728.5,843.0L731.0,842.5L732.5,840.5L734.0,839.0L735.0,841.0L735.5,843.5L736.5,841.0L737.0,838.5L739.0,837.0L741.5,836.5L742.5,838.0L742.0,841.0L742.5,844.0L741.0,845.0L739.5,846.0L739.0,849.0L740.5,849.5L740.0,851.5L738.5,852.5L737.0,853.0L735.0,853.5L734.0,851.5L731.5,851.0L730.0,849.0L729.5,846.0Z M729.0,856.5L731.0,855.5L734.0,856.0L736.0,855.0L738.0,855.0L736.5,857.0L734.0,859.0L731.5,859.5L729.5,858.0Z M722.0,855.0L724.5,855.5L726.0,856.5L725.5,858.0L724.0,857.0Z M709.5,871.0L712.0,871.5L714.0,873.5L715.5,876.0L717.0,876.5 M670.0,890.9L670.2,890.0L671.1,887.1L672.5,885.7L674.6,884.5L676.3,882.2L678.7,880.4L681.6,879.2L685.1,878.7L688.6,878.4L690.9,879.0L692.2,880.0 M674.6,884.5L675.3,886.0L675.8,887.4L676.9,889.2L677.5,890.9 M678.7,880.4L677.5,884.5L678.1,886.8L679.8,887.4L679.5,890.9 M718.0,856.5L719.0,859.0L718.0,862.5L720.0,862.5L723.0,863.5L726.0,864.5L728.5,865.0L727.5,867.5L726.5,869.5L729.0,870.5L732.0,870.5L734.5,868.5L737.0,867.2L739.5,865.2L741.5,863.5L743.5,862.5L746.0,863.2L747.5,864.5L750.0,866.5L753.0,868.0L755.0,869.5L757.0,871.0L759.5,872.2L760.5,874.0L758.0,874.0L755.5,872.5L754.0,870.5L753.5,868.5 M728.5,862.2L729.8,861.5L730.5,862.8L729.2,863.8Z M748.0,861.0L749.5,859.0L751.5,860.0L752.5,862.0L751.5,864.0L752.5,865.5L750.5,865.8L749.0,864.5L747.8,863.0Z M758.0,871.0L762.0,869.5L766.0,868.0L770.0,866.5L774.0,865.2L776.5,863.5L778.0,861.5L781.0,860.0L784.0,858.5L787.0,857.5L790.0,856.8 M891.0,771.0L888.6,772.2L886.2,773.4L883.2,774.0L882.6,777.0L882.0,780.4L877.8,779.6L873.0,779.2L868.8,778.0L864.0,777.0L859.2,776.4L854.4,777.6L849.6,778.8L845.4,781.2L841.8,783.6L840.6,787.8L841.2,792.0L842.4,794.4L841.8,796.8L843.6,799.2L846.6,800.4L849.0,798.6L850.2,801.0L849.8,804.0L849.0,806.7L848.6,810.6L849.3,814.8L848.4,818.4L846.0,820.8L843.0,822.3L840.6,821.4L838.8,819.0L837.6,816.0L835.2,813.0L832.8,810.0L829.2,810.6L825.6,812.0L823.2,814.8L822.0,818.4L821.4,822.0L819.6,825.0L818.6,828.6L818.4,832.8L819.0,837.0L819.3,840.6L820.2,844.2L819.0,847.8L817.2,850.8L815.4,853.2L814.2,854.4L810.0,855.0L808.8,856.2L808.2,860.4L805.8,863.1L802.2,864.3L799.2,864.0L796.8,862.2L795.4,859.2L798.0,859.8L795.0,856.8L791.4,856.4L787.2,857.1L783.6,858.6L780.0,860.4 M820.2,844.2L820.5,849.0L820.5,853.8L818.4,855.6L816.0,855.0 M873.0,790.2L875.4,788.4L879.0,787.6L879.8,791.4L880.5,795.6L879.6,799.8L878.4,802.4L876.6,799.2L874.8,795.0Z M878.4,802.4L881.4,802.2L883.4,804.6L882.9,807.0L880.5,807.6L879.0,805.2Z M859.7,866.4L860.6,865.4L861.6,866.4L860.6,867.3Z M826.2,796.8L828.6,796.0L831.6,796.2L834.6,794.4L836.4,795.0L838.8,796.2L838.2,798.0L835.8,799.2L833.4,800.4L831.0,801.0L829.2,802.8L828.6,805.8L827.4,806.0L827.7,803.4L826.5,801.0L826.8,798.8Z M828.6,789.0L831.0,788.4L832.8,786.6L834.6,786.4L836.4,788.4L836.1,790.8L834.0,792.0L832.8,790.8L831.0,790.2Z M837.6,794.4L838.5,793.4L839.5,794.4L838.5,795.4Z M793.0,823.2L792.0,819.0L792.4,814.8L793.8,811.2L796.2,808.8L799.2,807.0L803.4,805.6L801.4,807.6L799.8,810.6L799.2,813.6L799.4,816.0L798.0,818.4L795.6,820.8L793.8,823.2Z M800.4,771.0L800.2,774.0L798.0,777.0L795.6,778.8L792.6,780.6L791.4,781.8L793.8,782.4L796.2,781.2L796.8,778.8 M796.8,778.8L795.0,784.2L795.4,786.6L793.2,786.4L789.6,788.4L786.0,790.8L782.4,792.8L780.0,794.4 M836.4,773.2L838.8,772.0L842.4,771.0 M895.2,771.0L898.8,771.6L901.2,771.0"/>
<path class="border" d="M561.5,853.5L561.0,855.0L559.5,857.5L557.0,859.0L555.5,860.5L554.5,862.5L556.0,864.8L558.5,867.0L561.0,868.2L563.0,867.2L563.8,865.0L565.0,863.8L566.5,865.5L568.0,867.5L569.5,869.2L572.0,869.0 M811.5,579.0L815.0,578.5L818.5,578.0L819.0,575.5L820.0,573.2L822.5,572.2L824.5,573.0L826.5,576.5L829.0,580.5L830.5,583.5L832.0,586.2L835.5,587.0L839.0,588.0L841.5,587.0L843.5,585.5L845.0,584.0L848.0,586.0L851.5,588.5L854.0,589.5L855.5,588.5L856.0,585.5L857.5,583.0L860.0,582.0L861.5,580.0L861.8,576.5L861.5,573.5L862.5,570.0L863.5,566.0L864.0,562.5L865.5,560.5L867.5,558.0L869.0,555.8L871.5,555.5L874.0,555.8L875.5,554.5L877.0,553.0L878.5,551.8L880.0,551.8L881.5,554.0L883.5,556.8L886.0,559.0L889.0,560.5L892.0,562.0L893.5,564.5L894.0,567.5L892.5,570.5L890.5,573.5L889.5,576.0L890.5,578.0 M890.5,578.0L892.5,577.0L893.5,574.0L895.0,571.2L898.5,570.0L901.0,569.0L902.0,565.5L901.5,563.0L903.0,564.5L906.0,565.5L908.0,564.8L908.5,562.0L907.5,560.0 M890.5,578.0L888.0,580.0L885.5,581.8L888.0,582.5L889.5,584.0L888.5,587.0L887.0,590.0L886.5,592.0L887.5,595.5L888.0,598.5L890.5,600.0L893.5,601.5L895.5,604.5L897.5,608.0L899.0,610.0 M811.5,579.0L815.0,578.8L817.0,579.0L818.5,581.5L821.5,585.0L825.0,589.0L828.5,592.0L832.0,593.0L835.0,595.0L837.5,598.0L838.5,600.5L840.5,602.5L842.5,605.0L841.0,607.0L840.5,610.0 M811.5,579.0L813.0,580.5L813.2,584.0L812.0,588.0L810.0,590.5L811.5,592.5L809.5,595.2L806.0,594.0L802.0,592.2L798.0,591.0L794.5,590.0L793.5,591.5L793.8,595.0L794.0,599.0L793.0,602.0L791.2,604.5L788.5,603.0L785.5,601.2L783.0,603.5L780.5,606.0L779.5,609.0L778.5,612.5L777.0,615.0L774.8,616.2L774.5,618.0L776.0,620.5L777.5,623.5L777.0,626.5L775.0,629.5 M775.0,629.5L773.5,631.0L771.0,635.0L768.0,639.5L768.5,643.5L766.5,645.5L763.5,646.5L760.0,647.2L760.5,650.0L761.2,654.0L760.5,659.0L760.0,663.0L759.0,666.5L757.5,670.0L756.0,673.0L754.0,677.0L752.0,680.5L754.0,682.0L756.0,683.5L756.5,687.0L756.0,690.5L755.0,692.5L752.5,692.2L749.0,691.5L746.0,691.8L743.5,693.5L741.5,696.5L739.5,699.5L738.2,701.5L739.0,703.0L737.8,705.5L737.2,707.5 M840.5,610.0L841.0,610.0L841.5,613.5L840.5,616.0L842.0,617.0L843.8,618.0L844.0,620.0L842.8,622.0L842.5,625.0L843.5,627.5L845.0,630.0L845.8,632.0L845.0,635.0L844.5,637.5L843.0,639.5L842.5,642.0L843.0,645.0L844.0,646.2L845.0,646.8L846.0,649.0L846.8,652.0L847.0,654.5 M899.0,610.0L899.8,611.5L899.5,615.0L897.5,618.0L895.0,621.5L893.0,625.0L891.5,628.5L891.5,630.5L893.0,633.5L894.5,637.0L896.0,641.0L897.5,644.5L899.0,647.5L899.8,651.0L901.2,654.5L901.0,657.5L899.0,657.2L897.5,658.0L898.0,660.0L897.5,662.5L897.0,665.5L896.2,666.8L898.5,667.8L898.5,669.5L896.5,671.5L896.0,673.5L897.0,675.5L898.5,676.8L901.0,677.0L901.2,679.5L899.5,682.0L901.0,684.5L903.5,686.5L905.0,688.5L905.3,691.5L904.0,694.5L902.5,696.5L901.0,698.0L899.5,698.5L901.0,699.5 M737.2,707.5L738.5,710.5L739.5,713.0L738.8,716.0L738.2,720.0L739.0,723.5L740.0,726.5L740.0,730.0L739.2,734.0L738.5,738.0L741.0,740.0L743.5,742.5L745.0,744.5L745.5,746.0L744.5,749.0L743.0,751.0L741.0,751.5L739.5,752.0L740.2,755.5L741.5,759.0L742.5,762.0L742.0,766.0L741.0,769.5L739.5,771.0L737.0,772.0L735.5,775.0L734.0,777.5L735.0,780.0L735.5,783.0L734.8,786.5L733.5,789.5L732.0,788.5L731.0,786.2 M899.8,698.2L902.8,701.1L905.7,703.4L909.2,706.3L911.5,709.2L912.4,713.3L912.1,718.6L910.9,722.1L908.0,726.2L904.5,730.8L901.0,736.1L896.9,741.3L892.2,746.6L887.6,751.8L883.5,756.5L880.0,760.0 M704.0,855.0L706.5,856.0L709.5,856.5L713.0,857.0L716.5,856.0L718.0,856.5 M692.8,876.5L693.5,880.0L693.8,883.5L693.0,887.0L692.5,891.0 M671.4,883.3L672.2,884.4 M673.1,880.4L674.3,881.4 M675.6,878.7L677.5,879.0 M679.8,877.4L681.7,877.8 M684.2,877.3L686.0,877.5 M688.6,875.5L690.0,876.3 M758.0,874.0L758.8,877.0L759.2,880.5L758.5,883.5L757.0,885.5L756.5,887.0L758.0,888.5L759.5,891.0 M882.0,780.4L880.8,784.2L879.6,787.8L880.2,792.0L880.5,795.6L879.3,799.2L878.1,802.4L879.0,807.0L877.8,810.0L876.6,813.0 M849.0,806.7L852.0,805.6L855.6,804.6L859.2,805.6L862.8,807.6L865.8,810.6L868.2,813.0L871.2,812.4L874.2,812.7L876.6,813.0 M876.6,813.0L879.0,815.4L880.2,817.8L879.6,820.8L879.0,823.8L880.8,825.6L882.0,828.6L883.2,832.2L883.8,836.4 M819.0,837.0L822.0,834.6L825.6,832.4L829.2,831.3L834.0,831.6L838.8,832.8L843.6,833.4L848.4,833.6L852.0,832.4L853.8,831.9L855.0,834.0L858.0,835.8L861.6,837.6L864.6,840.0L867.0,842.4L868.8,843.6 M868.8,843.6L872.4,841.8L875.4,840.6L877.8,841.2L879.6,838.8L882.0,836.7L883.8,836.4 M883.8,836.4L886.8,837.0L888.6,838.8L891.0,837.6L893.4,839.4L894.6,841.8L895.8,843.0L898.2,841.2L901.2,840.3L904.2,841.5L906.6,843.6L908.4,846.0L908.6,849.6L910.2,853.2L908.4,856.2L910.2,859.2L911.4,862.2L912.6,865.8 M820.5,849.0L823.2,850.8L827.4,852.8L831.6,853.5L834.0,853.8L835.4,856.2L834.6,859.8L834.2,863.6 M805.8,863.1L813.6,863.4L822.0,863.6L834.2,864.0 M834.2,864.0L837.6,865.2L840.0,867.0L841.4,870.0L841.8,871.5 M868.8,843.6L868.2,847.8L870.6,849.6L868.8,852.0L865.8,853.2L863.4,855.0L861.8,858.6L861.3,862.8L860.4,865.8L856.8,867.6L853.2,870.0L849.6,871.2L845.4,870.8L841.8,871.5 M841.8,871.5L843.0,875.4L844.2,879.6L845.4,884.4L845.4,891.0"/>
</g>
<line class="grid" x1="357.5" y1="321.5" x2="357.5" y2="890.5"/>
<text class="ml" x="356.9" y="311.7" text-anchor="middle">30°W</text>
<text class="ml" x="356.9" y="909.7" text-anchor="middle">30°W</text>
<line class="grid" x1="448.5" y1="321.5" x2="448.5" y2="890.5"/>
<text class="ml" x="447.4" y="311.7" text-anchor="middle">20°W</text>
<text class="ml" x="447.4" y="909.7" text-anchor="middle">20°W</text>
<line class="grid" x1="538.5" y1="321.5" x2="538.5" y2="890.5"/>
<text class="ml" x="537.9" y="311.7" text-anchor="middle">10°W</text>
<text class="ml" x="537.9" y="909.7" text-anchor="middle">10°W</text>
<line class="grid" x1="629.5" y1="321.5" x2="629.5" y2="890.5"/>
<text class="ml" x="628.4" y="311.7" text-anchor="middle">0°</text>
<text class="ml" x="628.4" y="909.7" text-anchor="middle">0°</text>
<line class="grid" x1="719.5" y1="321.5" x2="719.5" y2="890.5"/>
<text class="ml" x="718.9" y="311.7" text-anchor="middle">10°E</text>
<text class="ml" x="718.9" y="909.7" text-anchor="middle">10°E</text>
<line class="grid" x1="810.5" y1="321.5" x2="810.5" y2="890.5"/>
<text class="ml" x="809.4" y="311.7" text-anchor="middle">20°E</text>
<text class="ml" x="809.4" y="909.7" text-anchor="middle">20°E</text>
<line class="grid" x1="900.5" y1="321.5" x2="900.5" y2="890.5"/>
<text class="ml" x="899.9" y="311.7" text-anchor="middle">30°E</text>
<text class="ml" x="899.9" y="909.7" text-anchor="middle">30°E</text>
<line class="grid" x1="318.5" y1="854.5" x2="912.5" y2="854.5"/>
<text class="ml" x="311.6" y="859.9" text-anchor="end">55°N</text>
<text class="ml" x="918.3" y="859.9">55°N</text>
<line class="grid" x1="318.5" y1="770.5" x2="912.5" y2="770.5"/>
<text class="ml" x="311.6" y="775.9" text-anchor="end">60°N</text>
<text class="ml" x="918.3" y="775.9">60°N</text>
<line class="grid" x1="318.5" y1="672.5" x2="912.5" y2="672.5"/>
<text class="ml" x="311.6" y="677.9" text-anchor="end">65°N</text>
<text class="ml" x="918.3" y="677.9">65°N</text>
<line class="grid" x1="318.5" y1="553.5" x2="912.5" y2="553.5"/>
<text class="ml" x="311.6" y="558.9" text-anchor="end">70°N</text>
<text class="ml" x="918.3" y="558.9">70°N</text>
<line class="grid" x1="318.5" y1="402.5" x2="912.5" y2="402.5"/>
<text class="ml" x="311.6" y="406.9" text-anchor="end">75°N</text>
<text class="ml" x="918.3" y="406.9">75°N</text>
<g stroke="#000" fill="none" stroke-linecap="butt">
<path d="M483.5,664.9 L493.25,664.9" stroke-width="1.6"/>
<path d="M483.7,664.5 L479.7,676" stroke-width="1.3"/>
<path d="M493.0,664.5 L497.8,676.5" stroke-width="1.3"/>
<path d="M483.5,665 L481.1,658.2 M488.5,665 L488.5,658 M493.25,665 L495.75,658.2" stroke-width="1.6"/>
<path d="M479.6,676.5 L486,676.5 M491,676.5 L497.4,676.5" stroke-width="2.5"/>
</g>
<rect x="318.5" y="321.5" width="594.0" height="569.0" fill="none" stroke="#000" stroke-width="1"/>
<path d="M15.0,44.0C16.7,44.1 21.7,45.2 25.0,44.5C28.3,43.8 31.7,41.8 35.0,40.0C38.3,38.2 41.7,35.0 45.0,33.5C48.3,32.0 51.7,31.2 55.0,31.0C58.3,30.8 61.7,31.8 65.0,32.5C68.3,33.2 71.7,34.8 75.0,35.5C78.3,36.2 81.7,36.5 85.0,36.5C88.3,36.5 91.7,36.2 95.0,35.5C98.3,34.8 103.3,33.0 105.0,32.5L105.0,41.5C103.3,41.7 98.3,42.5 95.0,42.5C91.7,42.5 88.3,42.0 85.0,41.5C81.7,41.0 78.3,40.2 75.0,39.5C71.7,38.8 68.0,37.2 65.0,37.0C62.0,36.8 60.3,37.2 57.0,38.5C53.7,39.8 48.7,43.1 45.0,45.0C41.3,46.9 38.3,49.2 35.0,50.0C31.7,50.8 28.3,50.3 25.0,50.0C21.7,49.7 16.7,48.3 15.0,48.0Z" fill="#c7f23c"/>
<path d="M15.0,50.5C16.7,51.0 21.7,52.7 25.0,53.5C28.3,54.3 31.7,55.5 35.0,55.5C38.3,55.5 41.7,54.8 45.0,53.5C48.3,52.2 51.7,49.3 55.0,47.5C58.3,45.7 61.7,43.5 65.0,42.5C68.3,41.5 71.7,41.2 75.0,41.5C78.3,41.8 81.7,43.2 85.0,44.0C88.3,44.8 91.7,46.0 95.0,46.5C98.3,47.0 103.3,46.9 105.0,47.0L105.0,53.5C103.3,53.2 98.3,52.8 95.0,52.0C91.7,51.2 88.3,49.7 85.0,49.0C81.7,48.3 78.0,47.8 75.0,48.0C72.0,48.2 70.3,48.5 67.0,50.0C63.7,51.5 58.7,55.2 55.0,57.0C51.3,58.8 48.3,60.4 45.0,61.0C41.7,61.6 38.3,61.1 35.0,60.5C31.7,59.9 28.3,58.4 25.0,57.5C21.7,56.6 16.7,55.4 15.0,55.0Z" fill="#c7f23c"/>
<path d="M15.0,60.0C16.7,60.0 21.7,59.6 25.0,60.0C28.3,60.4 31.7,61.6 35.0,62.5C38.3,63.4 42.0,64.9 45.0,65.5C48.0,66.1 50.3,66.4 53.0,66.0C55.7,65.6 58.2,64.5 61.0,63.0C63.8,61.5 66.8,58.8 70.0,57.0C73.2,55.2 76.7,53.2 80.0,52.5C83.3,51.8 86.7,52.0 90.0,52.5C93.3,53.0 97.5,54.7 100.0,55.5C102.5,56.3 104.2,57.2 105.0,57.5L105.0,61.0C104.2,60.8 102.0,60.0 100.0,59.5C98.0,59.0 95.5,58.1 93.0,58.0C90.5,57.9 88.0,57.8 85.0,59.0C82.0,60.2 78.3,63.1 75.0,65.0C71.7,66.9 68.3,69.3 65.0,70.5C61.7,71.7 58.3,72.2 55.0,72.0C51.7,71.8 48.3,70.4 45.0,69.5C41.7,68.6 38.3,67.2 35.0,66.5C31.7,65.8 28.3,65.2 25.0,65.5C21.7,65.8 16.7,68.0 15.0,68.5Z" fill="#c7f23c"/>
<path d="M15.0,74.5C16.7,73.8 21.7,70.8 25.0,70.0C28.3,69.2 31.7,69.6 35.0,70.0C38.3,70.4 41.7,71.6 45.0,72.5C48.3,73.4 52.0,74.9 55.0,75.5C58.0,76.1 60.3,76.4 63.0,76.0C65.7,75.6 68.0,74.7 71.0,73.0C74.0,71.3 77.8,67.8 81.0,66.0C84.2,64.2 87.0,63.1 90.0,62.5C93.0,61.9 96.5,62.2 99.0,62.5C101.5,62.8 104.0,63.8 105.0,64.0L105.0,68.5C103.8,68.8 100.5,69.4 98.0,70.5C95.5,71.6 92.8,73.3 90.0,75.0C87.2,76.7 83.8,79.2 81.0,80.5C78.2,81.8 75.7,82.4 73.0,82.8C70.3,83.2 68.0,83.3 65.0,82.8C62.0,82.2 58.3,80.5 55.0,79.5C51.7,78.5 48.3,77.4 45.0,77.0C41.7,76.6 38.3,76.5 35.0,77.0C31.7,77.5 28.3,78.4 25.0,80.0C21.7,81.6 16.7,85.7 15.0,86.8Z" fill="#c7f23c"/>
<text x="14.6" y="108.9" style="font-family:'Liberation Sans','DejaVu Sans',sans-serif;font-weight:bold;font-size:21.6px;fill:#1d1d1b;stroke:#1d1d1b;stroke-width:0.3px" textLength="90.6" lengthAdjust="spacingAndGlyphs">Met Office</text>
</svg></body></html>
